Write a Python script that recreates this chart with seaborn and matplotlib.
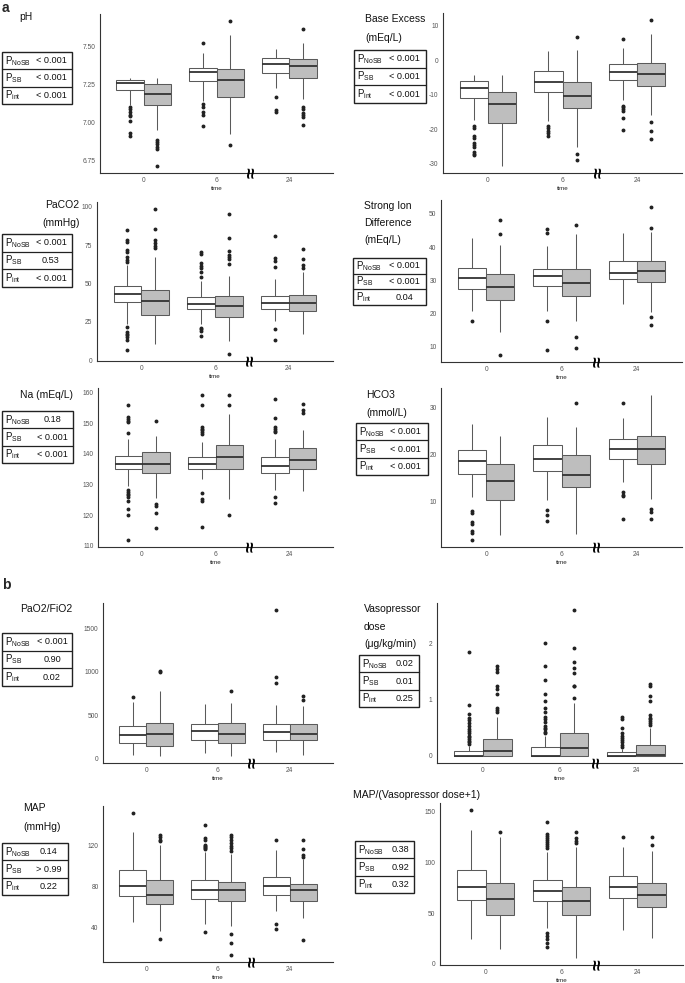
import matplotlib
matplotlib.use('Agg')
import matplotlib.pyplot as plt
import matplotlib.transforms as mtransforms
from matplotlib.patches import Rectangle
import pandas as pd
import seaborn as sns

sns.set_style('white')
plt.rcParams['font.family'] = ['Liberation Sans', 'DejaVu Sans']
plt.rcParams['mathtext.fontset'] = 'custom'
plt.rcParams['mathtext.rm'] = 'Liberation Sans'
plt.rcParams['mathtext.it'] = 'Liberation Sans:italic'

W, H = 685, 983
times = ['0', '6', '24']
groups = ['NoSB', 'SB']

# boxes: [lower whisker, Q1, median, Q3, upper whisker]
# order: t0 NoSB, t0 SB, t6 NoSB, t6 SB, t24 NoSB, t24 SB
ph_box = [[7.115, 7.212, 7.261, 7.281, 7.294], [6.951, 7.112, 7.19, 7.255, 7.294],
          [7.14, 7.27, 7.331, 7.359, 7.457], [6.923, 7.17, 7.281, 7.348, 7.574],
          [7.229, 7.324, 7.38, 7.424, 7.483], [7.157, 7.294, 7.37, 7.418, 7.52]]
ph_out = [[7.10, 7.09, 7.07, 7.05, 7.04, 7.01, 6.93, 6.91],
          [6.885, 6.875, 6.86, 6.84, 6.825, 6.717],
          [7.52, 7.12, 7.10, 7.07, 7.05, 6.98],
          [7.663, 6.85],
          [7.17, 7.082, 7.066],
          [7.615, 7.099, 7.086, 7.064, 7.05, 7.034, 6.984]]

be_box = [[-17.2, -10.96, -8.07, -6.04, -4.2], [-30.5, -18.2, -12.6, -9.13, -4.3],
          [-17.7, -9.32, -6.23, -3.04, 2.56], [-25.0, -13.96, -10.4, -6.23, 3.04],
          [-11.45, -5.84, -3.33, -1.2, 3.53], [-15.8, -7.48, -4.1, -0.72, 7.4]]
be_out = [[-18.9, -19.5, -22.0, -22.6, -24.0, -24.6, -25.2, -26.5, -27.0, -27.4],
          [],
          [-18.9, -19.7, -20.4, -21.1, -21.8],
          [6.6, -27.1, -28.8],
          [6.14, -13.2, -13.6, -14.1, -14.6, -16.8, -20.1],
          [11.5, -18.0, -20.4, -22.8]]

paco2_box = [[23.8, 37.8, 43.2, 48.2, 62.2], [10.8, 29.6, 38.9, 45.8, 67.0],
             [23.8, 33.5, 36.7, 41.5, 51.4], [12.5, 28.5, 35.2, 41.7, 55.1],
             [25.9, 33.5, 37.4, 41.7, 52.9], [17.0, 32.4, 37.4, 42.8, 57.2]]
paco2_out = [[84.7, 78.2, 76.7, 71.7, 70.6, 67.0, 65.4, 64.1, 21.5, 18.4, 17.3, 16.2, 15.1, 13.0, 6.9],
             [98.3, 85.3, 78.2, 76.2, 74.5, 73.0],
             [70.2, 69.1, 63.3, 61.6, 60.0, 57.7, 54.0, 21.0, 20.5, 19.4, 15.8],
             [95.0, 79.9, 71.3, 68.5, 67.4, 65.9, 63.0, 4.3],
             [81.0, 66.3, 64.8, 60.9, 20.5, 13.0],
             [72.4, 65.9, 62.2, 60.0]]

sid_box = [[20.8, 27.4, 30.7, 33.7, 42.8], [14.4, 24.1, 28.0, 31.9, 40.5],
           [20.8, 28.2, 31.3, 33.5, 40.3], [17.8, 25.2, 29.2, 33.3, 44.1],
           [22.9, 30.3, 32.3, 35.9, 44.2], [20.3, 29.3, 32.9, 35.8, 44.6]]
sid_out = [[17.6], [48.2, 44.1, 7.5], [45.6, 44.4, 17.8, 8.9],
           [46.6, 12.8, 9.6], [], [52.0, 45.8, 19.0, 16.4]]

na_box = [[129.5, 135.1, 136.8, 139.2, 144.9], [125.5, 133.8, 136.8, 140.5, 146.0],
          [131.7, 135.1, 136.8, 139.0, 143.8], [125.2, 135.1, 139.0, 142.8, 153.0],
          [128.2, 133.8, 136.0, 139.0, 144.9], [127.9, 135.1, 137.9, 141.9, 147.9]]
na_out = [[156.0, 152.0, 151.5, 150.9, 150.4, 147.0, 128.1, 127.5, 127.0, 126.4, 125.9, 124.6, 121.9, 120.0, 111.9],
          [150.9, 123.5, 122.8, 120.8, 115.9],
          [159.2, 156.1, 148.9, 148.3, 147.8, 147.2, 146.6, 127.1, 125.2, 124.6, 116.0],
          [159.2, 156.0, 120.0],
          [158.0, 151.9, 148.7, 148.1, 147.6, 147.2, 125.8, 123.8],
          [156.2, 154.4, 153.3]]

hco3_box = [[10.9, 15.9, 18.6, 20.9, 26.6], [2.9, 10.4, 14.4, 17.9, 23.9],
            [10.4, 16.6, 19.1, 22.0, 28.1], [3.1, 13.0, 15.7, 20.0, 25.9],
            [14.1, 19.1, 21.1, 23.4, 27.9], [10.6, 17.9, 21.1, 23.9, 32.7]]
hco3_out = [[7.9, 7.6, 5.6, 5.1, 3.7, 3.3, 1.8], [], [8.2, 7.0, 5.9],
            [31.1], [31.1, 12.0, 11.4, 11.1, 6.3], [8.3, 7.7, 6.3]]

pf_box = [[39, 182, 278, 374, 652], [35, 151, 282, 413, 779],
          [66, 220, 313, 394, 633], [35, 182, 290, 413, 644],
          [81, 212, 309, 401, 613], [43, 220, 286, 394, 606]]
pf_out = [[706], [1007, 991], [], [775], [1704, 933, 864], [721, 671]]

vaso_box = [[0, 0, 0, 0.08, 0.18], [0, 0, 0.09, 0.3, 0.69],
            [0, 0, 0, 0.15, 0.35], [0, 0, 0.13, 0.4, 0.95],
            [0, 0, 0, 0.06, 0.12], [0, 0, 0.01, 0.2, 0.49]]
vaso_out = [[0.21, 0.24, 0.27, 0.3, 0.33, 0.36, 0.4, 0.44, 0.48, 0.53, 0.58, 0.63, 0.68, 0.75, 0.91, 1.85],
            [0.79, 0.82, 0.85, 1.1, 1.2, 1.25, 1.5, 1.55, 1.6],
            [0.4, 0.43, 0.47, 0.5, 0.53, 0.6, 0.65, 0.7, 0.78, 0.85, 0.98, 1.1, 1.35, 1.6, 2.02],
            [1.04, 1.24, 1.25, 1.48, 1.57, 1.67, 1.92, 2.6],
            [0.16, 0.2, 0.24, 0.28, 0.32, 0.36, 0.4, 0.5, 0.66, 0.7],
            [0.55, 0.58, 0.62, 0.65, 0.68, 0.73, 0.98, 1.07, 1.25, 1.28]]

map_box = [[45, 70, 80, 95.5, 132.7], [36, 63, 71.2, 86, 120],
           [43.3, 67.5, 75.8, 86, 113], [41, 65.7, 75.8, 84.3, 111.5],
           [55.7, 71, 80, 89, 115.5], [49.2, 65.7, 75.8, 82.3, 106.5]]
map_out = [[151.5], [130.4, 127.8, 125.5, 123.9, 28.0],
           [140.2, 127.1, 125.5, 120, 119, 118, 117, 116, 35.5],
           [130.4, 127.8, 125, 122, 119.5, 117, 114, 32.9, 24.8, 12.8],
           [124.9, 43.5, 38.4],
           [125.5, 116.8, 110.9, 108.6, 27.0]]

mapv_box = [[24.6, 63.2, 76.3, 92.7, 132], [14.1, 48.5, 63.9, 79.6, 125.4],
            [35.4, 62.2, 71.4, 82.9, 110.7], [6, 47.8, 61.6, 76.3, 115.6],
            [33.1, 64.9, 76.3, 86.8, 115.6], [25.6, 56, 67.5, 79.6, 111.4]]
mapv_out = [[151.6], [130.3],
            [140.2, 128.7, 126, 124, 122, 120, 118, 116, 114.5, 30.5, 27.5, 24, 20, 16.7],
            [130.3, 123.8, 121.5, 119.6],
            [125.4], [125.4, 117.3]]

# p-values (NoSB, SB, interaction)
p_rows = ['NoSB', 'SB', 'int']
ph_p = ['< 0.001', '< 0.001', '< 0.001']
be_p = ['< 0.001', '< 0.001', '< 0.001']
paco2_p = ['< 0.001', '0.53', '< 0.001']
sid_p = ['< 0.001', '< 0.001', '0.04']
na_p = ['0.18', '< 0.001', '< 0.001']
hco3_p = ['< 0.001', '< 0.001', '< 0.001']
pf_p = ['< 0.001', '0.90', '0.02']
vaso_p = ['0.02', '0.01', '0.25']
map_p = ['0.14', '> 0.99', '0.22']
mapv_p = ['0.38', '0.92', '0.32']


def to_frame(boxes, outs, reps=60):
    # rebuild a sample whose quartiles/whiskers match the read-off summary
    rows = []
    for i, (b, o) in enumerate(zip(boxes, outs)):
        lo, q1, med, q3, hi = b
        vals = [v for v in o if v < lo] + [lo] + [q1] * reps + [med] * reps \
            + [q3] * reps + [hi] + [v for v in o if v > hi]
        for v in vals:
            rows.append((times[i // 2], groups[i % 2], v))
    return pd.DataFrame(rows, columns=['time', 'group', 'value'])


# layout in pixels: axes (left, right, top, bottom), table (x, top, w, h, value centre)
panels = [
    dict(box=ph_box, out=ph_out, p=ph_p, ticks=[6.75, 7.0, 7.25, 7.5], fmt='{:.2f}',
         ax=(100, 333, 14, 173), tab=(2, 52, 70, 52, 51),
         labels=[('pH', 26, 17, 'center')]),
    dict(box=be_box, out=be_out, p=be_p, ticks=[-30, -20, -10, 0, 10], fmt='{:.0f}',
         ax=(443, 682, 13, 173), tab=(354, 50, 72, 53, 404),
         labels=[('Base Excess', 365, 19, 'left'), ('(mEq/L)', 365, 38, 'left')]),
    dict(box=paco2_box, out=paco2_out, p=paco2_p, ticks=[0, 25, 50, 75, 100], fmt='{:.0f}',
         ax=(97, 333, 202, 361), tab=(2, 234, 70, 53, 51),
         labels=[('PaCO2', 62, 205, 'center'), ('(mmHg)', 61, 223, 'center')]),
    dict(box=sid_box, out=sid_out, p=sid_p, ticks=[10, 20, 30, 40, 50], fmt='{:.0f}',
         ax=(441, 682, 200, 362), tab=(353, 258, 73, 47, 404),
         labels=[('Strong Ion', 364, 206, 'left'), ('Difference', 364, 223, 'left'),
                 ('(mEq/L)', 364, 240, 'left')]),
    dict(box=na_box, out=na_out, p=na_p, ticks=[110, 120, 130, 140, 150, 160], fmt='{:.0f}',
         ax=(98, 333, 388, 547), tab=(2, 411, 71, 52, 52.5),
         labels=[('Na (mEq/L)', 73, 395, 'right')]),
    dict(box=hco3_box, out=hco3_out, p=hco3_p, ticks=[10, 20, 30], fmt='{:.0f}',
         ax=(441, 682, 388, 547), tab=(356, 423, 72, 52, 405.5),
         labels=[('HCO3', 366, 395, 'left'), ('(mmol/L)', 366, 413, 'left')]),
    dict(box=pf_box, out=pf_out, p=pf_p, ticks=[0, 500, 1000, 1500], fmt='{:.0f}',
         ax=(103, 333, 603, 763), tab=(2, 633, 70, 53, 52),
         labels=[('PaO2/FiO2', 72, 609, 'right')]),
    dict(box=vaso_box, out=vaso_out, p=vaso_p, ticks=[0, 1, 2], fmt='{:.0f}',
         ax=(437, 682, 603, 763), tab=(359, 655, 60, 52, 404.5),
         labels=[('Vasopressor', 364, 609, 'left'), ('dose', 364, 627, 'left'),
                 ('(\u03bcg/kg/min)', 364, 644, 'left')]),
    dict(box=map_box, out=map_out, p=map_p, ticks=[40, 80, 120], fmt='{:.0f}',
         ax=(103, 333, 806, 962), tab=(2, 843, 66, 52, 49),
         labels=[('MAP', 23, 808, 'left'), ('(mmHg)', 23, 827, 'left')]),
    dict(box=mapv_box, out=mapv_out, p=mapv_p, ticks=[0, 50, 100, 150], fmt='{:.0f}',
         ax=(440, 683, 803, 965), tab=(355, 841, 59, 52, 400.5),
         labels=[('MAP/(Vasopressor dose+1)', 353, 795, 'left')]),
]

fig = plt.figure(figsize=(W / 100, H / 100), dpi=100)


def fx(x):
    return x / W


def fy(y):
    return 1 - y / H


for pnl in panels:
    l, r, t, b = pnl['ax']
    ax = fig.add_axes([fx(l), fy(b), (r - l) / W, (b - t) / H])
    df = to_frame(pnl['box'], pnl['out'])
    sns.boxplot(data=df, x='time', y='value', hue='group', order=times, hue_order=groups,
                palette=['white', '#BEBEBE'], saturation=1, width=0.75, gap=0,
                linecolor='#5a5a5a', linewidth=0.75, showcaps=False,
                flierprops=dict(marker='o', markerfacecolor='#222222',
                                markeredgecolor='#222222', markersize=1.8),
                medianprops=dict(color='#333333', linewidth=1.3),
                legend=False, ax=ax)
    ax.set_xlim(-0.6, 2.6)
    ax.set_yticks(pnl['ticks'])
    ax.set_yticklabels([pnl['fmt'].format(v) for v in pnl['ticks']])
    ax.set_ylabel('')
    ax.set_xlabel('time', fontsize=4.5, labelpad=1.0, color='#222222')
    ax.tick_params(labelsize=4.8, length=2, width=0.5, colors='#666666', pad=1.2,
                   labelcolor='#555555')
    for s in ['top', 'right']:
        ax.spines[s].set_visible(False)
    for s in ['left', 'bottom']:
        ax.spines[s].set_color('#333333')
        ax.spines[s].set_linewidth(0.8)
    # axis break mark between 6 and 24
    trans = mtransforms.blended_transform_factory(ax.transData, ax.transAxes)
    ax.text(1.5, 0, '\u2248', rotation=90, transform=trans, ha='center', va='center',
            fontsize=14, fontweight='bold', color='black', clip_on=False)

    # y-label text to the left
    for txt, x, y, ha in pnl['labels']:
        fig.text(fx(x), fy(y), txt, ha=ha, va='center', fontsize=7.5, color='#111111')

    # p-value table
    x0, y0, w, h, vc = pnl['tab']
    rh = h / 3
    fig.add_artist(Rectangle((fx(x0), fy(y0 + h)), w / W, h / H, transform=fig.transFigure,
                             fill=False, lw=1.0, ec='#222222'))
    for k in range(3):
        ymid = y0 + rh * (k + 0.5)
        if k > 0:
            fig.add_artist(plt.Line2D([fx(x0), fx(x0 + w)], [fy(y0 + rh * k)] * 2,
                                      transform=fig.transFigure, lw=0.9, color='#222222'))
        fig.text(fx(x0 + 3), fy(ymid), r'P$_{\mathrm{%s}}$' % p_rows[k], ha='left',
                 va='center', fontsize=7.0, color='#111111')
        fig.text(fx(vc), fy(ymid), pnl['p'][k], ha='center', va='center',
                 fontsize=6.6, color='#111111')

fig.text(fx(2), fy(1), 'a', fontsize=10, fontweight='bold', ha='left', va='top')
fig.text(fx(2), fy(578), 'b', fontsize=10, fontweight='bold', ha='left', va='top')

fig.savefig('out.png', dpi=100)
